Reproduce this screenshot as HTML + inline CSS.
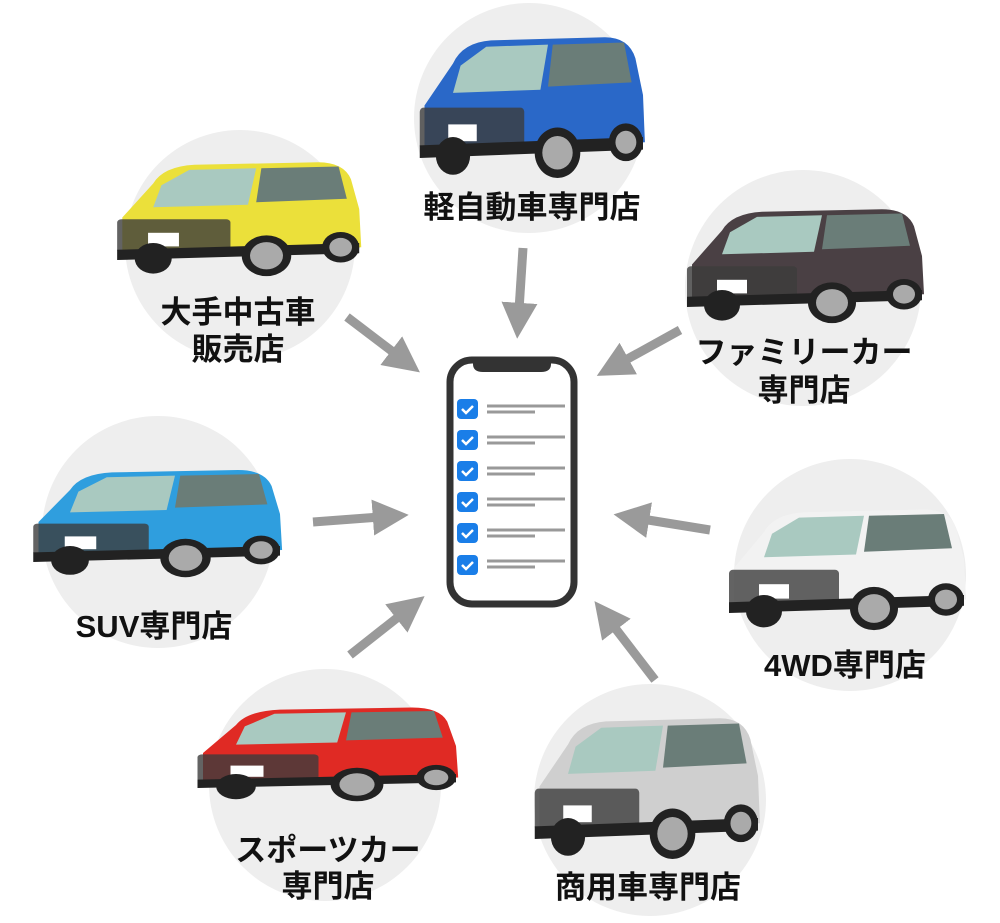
<!DOCTYPE html>
<html><head><meta charset="utf-8"><style>
html,body{margin:0;padding:0;background:#fff;width:1000px;height:923px;overflow:hidden}
svg text{font-family:"Liberation Sans","Noto Sans CJK JP",sans-serif;font-weight:bold;font-size:31px;fill:#111;text-anchor:middle}
</style></head><body>
<svg width="1000" height="923" viewBox="0 0 1000 923" xmlns="http://www.w3.org/2000/svg">
<defs>
<g id="car">
  <path d="M10,70 L40,30 Q50,10 80,8 L200,5 Q225,5 232,25 L240,60 L242,105 L10,115 Z" fill="currentColor"/>
  <path d="M48,32 L75,14 L140,12 L132,55 L40,58 Z" fill="#a9c9c0"/>
  <path d="M145,12 L220,10 L228,48 L140,52 Z" fill="#6a7d78"/>
  <rect x="5" y="72" width="110" height="40" rx="4" fill="#3c3c3c" opacity="0.8"/>
  <rect x="35" y="88" width="30" height="16" fill="#fff"/>
  <path d="M5,108 L240,100 L240,112 L5,120 Z" fill="#222"/>
  <circle cx="40" cy="118" r="18" fill="#222"/>
  <circle cx="150" cy="115" r="24" fill="#222"/><circle cx="150" cy="115" r="16" fill="#aaa"/>
  <circle cx="222" cy="105" r="18" fill="#222"/><circle cx="222" cy="105" r="11" fill="#aaa"/>
</g>
<marker id="ah" viewBox="0 0 10 10" refX="2" refY="5" markerWidth="4" markerHeight="4" orient="auto"><path d="M0,0 L10,5 L0,10 Z" fill="#9a9a9a"/></marker>
</defs>
<g fill="#eeeeee">
<circle cx="529" cy="118" r="115"/>
<circle cx="240" cy="245" r="115"/>
<circle cx="803" cy="288" r="118"/>
<circle cx="158" cy="532" r="116"/>
<circle cx="850" cy="575" r="116"/>
<circle cx="325" cy="785" r="116"/>
<circle cx="650" cy="800" r="116"/>
</g>
<g transform="translate(415,32) scale(0.95,1.05)" color="#2a68c8"><use href="#car"/></g>
<g transform="translate(112,158) scale(1.03,0.85)" color="#ebe03a"><use href="#car"/></g>
<g transform="translate(682,205) scale(1.0,0.85)" color="#4a4044"><use href="#car"/></g>
<g transform="translate(28,466) scale(1.05,0.8)" color="#2f9ede"><use href="#car"/></g>
<g transform="translate(724,505) scale(1.0,0.9)" color="#f2f2f2"><use href="#car"/></g>
<g transform="translate(192,704) scale(1.1,0.7)" color="#e02a24"><use href="#car"/></g>
<g transform="translate(530,713) scale(0.95,1.05)" color="#cfcfcf"><use href="#car"/></g>

<text x="532" y="218">軽自動車専門店</text>
<text x="238" y="323">大手中古車</text><text x="238" y="360">販売店</text>
<text x="804" y="363">ファミリーカー</text><text x="804" y="401">専門店</text>
<text x="154" y="637">SUV専門店</text>
<text x="845" y="676">4WD専門店</text>
<text x="328" y="861">スポーツカー</text><text x="328" y="897">専門店</text>
<text x="648" y="898">商用車専門店</text>

<g stroke="#9a9a9a" stroke-width="9" marker-end="url(#ah)">
<line x1="523" y1="248" x2="519" y2="310"/>
<line x1="347" y1="317" x2="397" y2="355"/>
<line x1="680" y1="330" x2="622" y2="362"/>
<line x1="313" y1="522" x2="380" y2="517"/>
<line x1="710" y1="530" x2="642" y2="519"/>
<line x1="350" y1="655" x2="402" y2="614"/>
<line x1="655" y1="680" x2="612" y2="624"/>
</g>

<rect x="450" y="360" width="124" height="244" rx="22" fill="#fff" stroke="#333" stroke-width="7"/>
<path d="M473,360 L551,360 L551,364 Q551,372 541,372 L483,372 Q473,372 473,364 Z" fill="#333"/>
<g fill="#1a7ee8">
<rect x="457" y="399" width="21" height="20" rx="4"/>
<rect x="457" y="430" width="21" height="20" rx="4"/>
<rect x="457" y="461" width="21" height="20" rx="4"/>
<rect x="457" y="492" width="21" height="20" rx="4"/>
<rect x="457" y="523" width="21" height="20" rx="4"/>
<rect x="457" y="555" width="21" height="20" rx="4"/>
</g>
<g fill="none" stroke="#fff" stroke-width="2.5">
<path d="M462,409 l4,4 l7,-7"/><path d="M462,440 l4,4 l7,-7"/><path d="M462,471 l4,4 l7,-7"/>
<path d="M462,502 l4,4 l7,-7"/><path d="M462,533 l4,4 l7,-7"/><path d="M462,565 l4,4 l7,-7"/>
</g>
<g stroke="#999" stroke-width="3">
<line x1="487" y1="406" x2="565" y2="406"/><line x1="487" y1="412" x2="535" y2="412"/>
<line x1="487" y1="437" x2="565" y2="437"/><line x1="487" y1="443" x2="535" y2="443"/>
<line x1="487" y1="468" x2="565" y2="468"/><line x1="487" y1="474" x2="535" y2="474"/>
<line x1="487" y1="499" x2="565" y2="499"/><line x1="487" y1="505" x2="535" y2="505"/>
<line x1="487" y1="530" x2="565" y2="530"/><line x1="487" y1="536" x2="535" y2="536"/>
<line x1="487" y1="561" x2="565" y2="561"/><line x1="487" y1="567" x2="535" y2="567"/>
</g>
</svg>
</body></html>
